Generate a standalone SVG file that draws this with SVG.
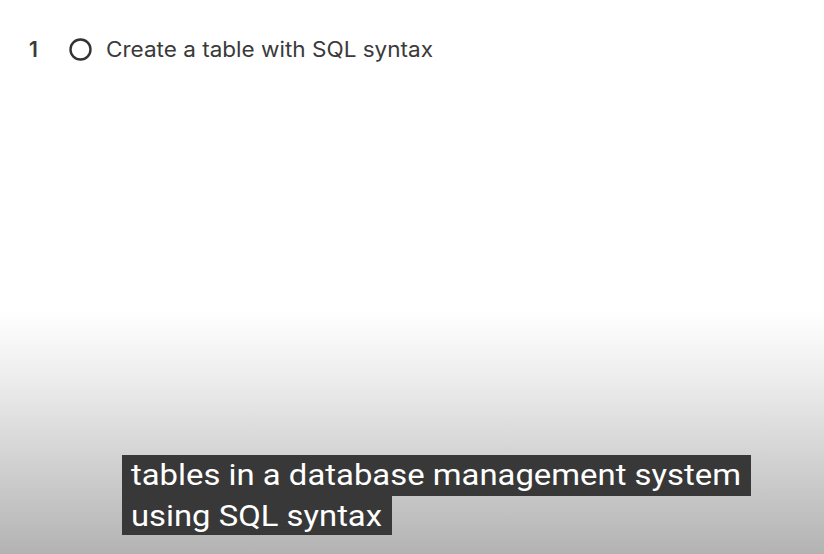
<svg xmlns="http://www.w3.org/2000/svg" width="824" height="554" viewBox="0 0 824 554">
<style>
.item{font-family:Inter,"Noto Sans","Liberation Sans",sans-serif;fill:#3a3a3a}
.cap{font-family:Roboto,"Liberation Sans",sans-serif;font-size:30px;fill:#ffffff}
.capbg{fill:#383838}
</style>
<defs>
<linearGradient id="shade" x1="0" y1="0" x2="0" y2="1">
<stop offset="0" stop-color="#ffffff"/>
<stop offset="0.3" stop-color="#ebebeb"/>
<stop offset="0.65" stop-color="#cfcfcf"/>
<stop offset="1" stop-color="#b3b3b3"/>
</linearGradient>
</defs>
<rect x="0" y="0" width="824" height="554" fill="#ffffff"/>
<rect x="0" y="312" width="824" height="242" fill="url(#shade)"/>
<g id="item1">
<text class="item" x="29" y="57" font-size="21" font-weight="600">1</text>
<circle cx="80.5" cy="49.5" r="10" fill="none" stroke="#333333" stroke-width="2.4"/>
<text class="item" x="106" y="57" font-size="21" textLength="327" lengthAdjust="spacingAndGlyphs">Create a table with SQL syntax</text>
</g>
<g id="caption">
<rect class="capbg" x="122" y="455" width="629" height="41"/>
<rect class="capbg" x="122" y="495" width="270" height="40"/>
<text class="cap" x="131" y="485" textLength="610" lengthAdjust="spacingAndGlyphs">tables in a database management system</text>
<text class="cap" x="131" y="526" textLength="251" lengthAdjust="spacingAndGlyphs">using SQL syntax</text>
</g>
</svg>
